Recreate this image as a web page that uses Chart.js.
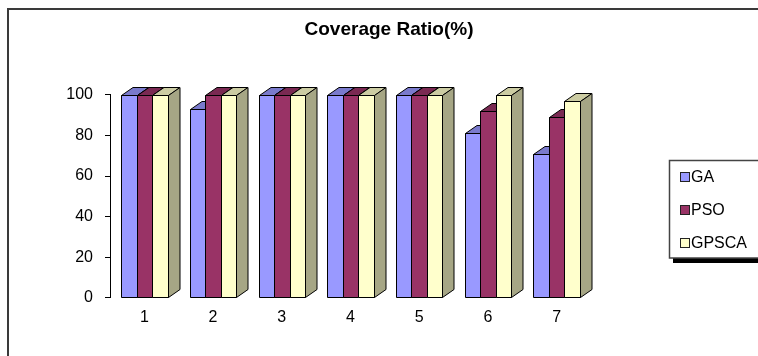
<!DOCTYPE html>
<html>
<head>
<meta charset="utf-8">
<script src="https://cdn.jsdelivr.net/npm/chart.js@4/dist/chart.umd.min.js"></script>
<style>
  html, body { margin: 0; padding: 0; background: #fff; }
  #wrap { width: 758px; height: 356px; }
</style>
</head>
<body>
<div id="wrap"><canvas id="c" width="758" height="356"></canvas></div>
<script>
// Category labels and series values
const categories = ['1', '2', '3', '4', '5', '6', '7'];
const gaValues    = [100, 93, 100, 100, 100, 81, 71];
const psoValues   = [100, 100, 100, 100, 100, 92, 89];
const gpscaValues = [100, 100, 100, 100, 100, 100, 97];
const yTicks = [0, 20, 40, 60, 80, 100];

const FONT = '"Liberation Sans", Arial, Helvetica, sans-serif';

function shade(hex, f) {
  const n = parseInt(hex.slice(1), 16);
  const r = Math.round(((n >> 16) & 255) * f);
  const g = Math.round(((n >> 8) & 255) * f);
  const b = Math.round((n & 255) * f);
  return `rgb(${r},${g},${b})`;
}

// Draws each column as a box: front face, top face, right side face.
const DEPTH_X = 11.5, DEPTH_Y = 8;
const columns3d = {
  id: 'columns3d',
  beforeDatasetsDraw(chart) {
    const ctx = chart.ctx;
    const sets = chart.data.datasets;
    ctx.save();
    ctx.lineWidth = 1;
    ctx.strokeStyle = '#000';
    ctx.lineJoin = 'miter';
    for (let i = 0; i < chart.data.labels.length; i++) {
      sets.forEach((ds, d) => {
        const bar = chart.getDatasetMeta(d).data[i];
        const { x, y, base, width } = bar.getProps(['x', 'y', 'base', 'width'], true);
        const x1 = Math.round(x - width / 2) + 0.5;
        const x2 = Math.round(x + width / 2) + 0.5;
        const yt = Math.round(y) + 0.5;
        const yb = Math.round(base) + 0.5;
        const col = ds.backgroundColor;
        // front
        ctx.fillStyle = col;
        ctx.beginPath();
        ctx.rect(x1, yt, x2 - x1, yb - yt);
        ctx.fill(); ctx.stroke();
        // top
        ctx.fillStyle = shade(col, 0.8);
        ctx.beginPath();
        ctx.moveTo(x1, yt);
        ctx.lineTo(x1 + DEPTH_X, yt - DEPTH_Y);
        ctx.lineTo(x2 + DEPTH_X, yt - DEPTH_Y);
        ctx.lineTo(x2, yt);
        ctx.closePath();
        ctx.fill(); ctx.stroke();
        // side
        ctx.fillStyle = shade(col, 0.65);
        ctx.beginPath();
        ctx.moveTo(x2, yt);
        ctx.lineTo(x2 + DEPTH_X, yt - DEPTH_Y);
        ctx.lineTo(x2 + DEPTH_X, yb - DEPTH_Y);
        ctx.lineTo(x2, yb);
        ctx.closePath();
        ctx.fill(); ctx.stroke();
      });
    }
    ctx.restore();
    return false;
  }
};

// Outer frame and boxed legend with a drop shadow
const frameAndLegend = {
  id: 'frameAndLegend',
  beforeDraw(chart) {
    const ctx = chart.ctx;
    ctx.save();
    ctx.fillStyle = '#fff';
    ctx.fillRect(0, 0, chart.width, chart.height);
    ctx.strokeStyle = '#3a3a3a';
    ctx.lineWidth = 2;
    ctx.strokeRect(8, 9, 800, 400);
    ctx.restore();
  },
  afterDraw(chart) {
    const ctx = chart.ctx;
    ctx.save();
    // shadow
    ctx.fillStyle = '#000';
    ctx.fillRect(673, 258, 120, 5);
    // box
    ctx.fillStyle = '#fff';
    ctx.fillRect(669, 160, 120, 98);
    ctx.strokeStyle = '#444';
    ctx.lineWidth = 1.5;
    ctx.strokeRect(669.5, 160.5, 120, 97.5);
    const rows = [177, 210, 243];
    ctx.font = '16px ' + FONT;
    ctx.textBaseline = 'middle';
    ctx.textAlign = 'left';
    chart.data.datasets.forEach((ds, d) => {
      const cy = rows[d];
      ctx.fillStyle = ds.backgroundColor;
      ctx.fillRect(680.5, cy - 4.5, 9, 9);
      ctx.strokeStyle = '#222';
      ctx.lineWidth = 1;
      ctx.strokeRect(680.5, cy - 4.5, 9, 9);
      ctx.fillStyle = '#000';
      ctx.fillText(ds.label, 691, cy + 0.5);
    });
    ctx.restore();
  }
};

Chart.defaults.color = '#000';
Chart.defaults.font.family = FONT;

new Chart(document.getElementById('c'), {
  type: 'bar',
  data: {
    labels: categories,
    datasets: [
      { label: 'GA',    data: gaValues,    backgroundColor: '#9999FF' },
      { label: 'PSO',   data: psoValues,   backgroundColor: '#993366' },
      { label: 'GPSCA', data: gpscaValues, backgroundColor: '#FFFFCC' }
    ]
  },
  options: {
    responsive: false,
    animation: false,
    events: [],
    layout: { padding: { left: 20, right: 0, top: 0, bottom: 19 } },
    datasets: { bar: { categoryPercentage: 0.677, barPercentage: 1 } },
    plugins: {
      legend: { display: false },
      tooltip: { enabled: false },
      title: {
        display: true,
        text: 'Coverage Ratio(%)',
        font: { size: 19, weight: 'bold', family: FONT },
        color: '#000',
        padding: { top: 18, bottom: 54 }
      }
    },
    scales: {
      x: {
        grid: { display: false, drawTicks: false },
        border: { display: false },
        ticks: { font: { size: 16 }, padding: 10, color: '#000' }
      },
      y: {
        min: 0, max: 100,
        afterBuildTicks(s) { s.ticks = yTicks.map(v => ({ value: v })); },
        afterFit(s) { s.width = 90; },
        grid: { display: true, drawOnChartArea: false, drawTicks: true, tickLength: 5, color: '#000' },
        border: { display: true, color: '#000', width: 1 },
        ticks: { font: { size: 16 }, padding: 12, color: '#000' }
      },
      side: {
        type: 'linear',
        position: 'right',
        grid: { display: false, drawTicks: false },
        border: { display: false },
        ticks: { display: false },
        afterFit(s) { s.width = 167; }
      }
    }
  },
  plugins: [frameAndLegend, columns3d]
});
</script>
</body>
</html>
